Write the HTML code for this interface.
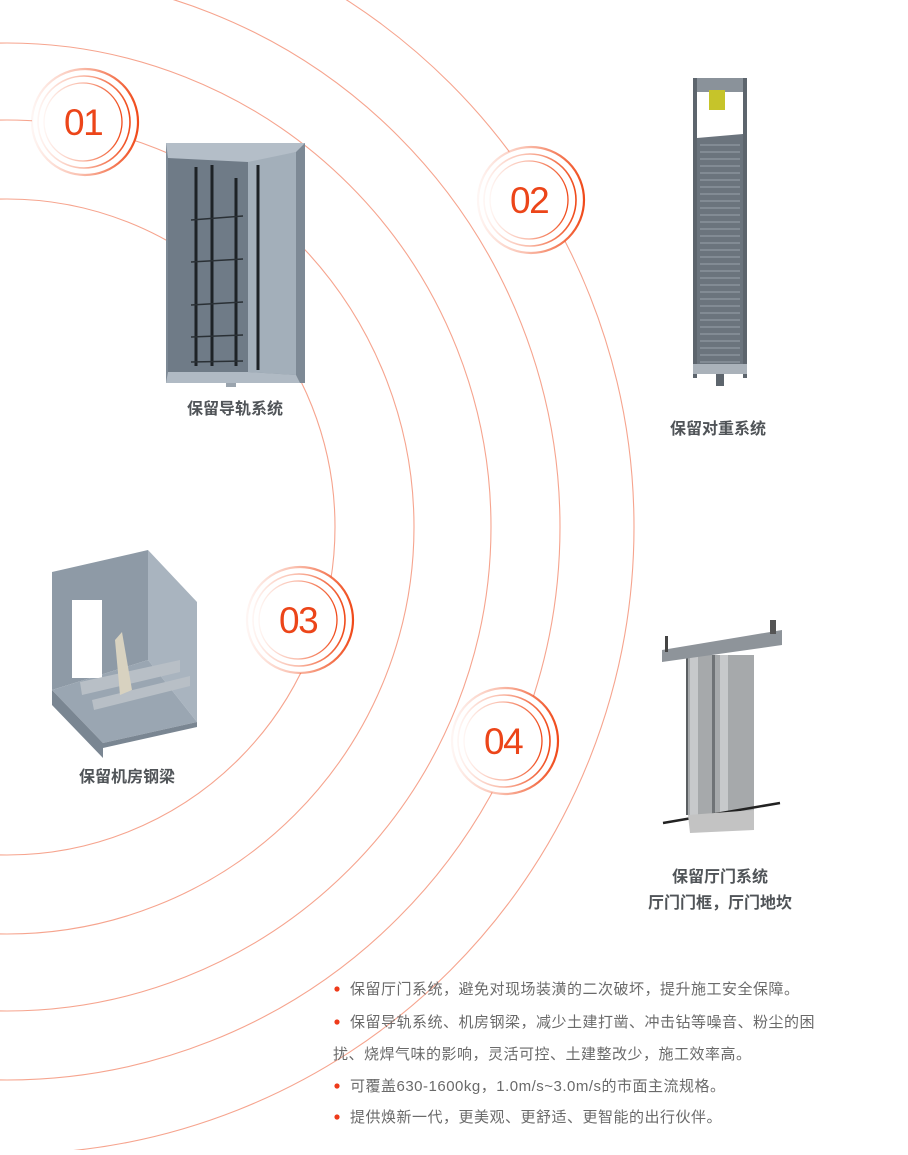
<!DOCTYPE html>
<html><head><meta charset="utf-8"><style>
html,body{margin:0;padding:0;background:#fff;}
body{width:908px;height:1150px;overflow:hidden;}
svg text{font-family:"Liberation Sans","Noto Sans CJK SC",sans-serif;}
</style></head><body>
<svg width="908" height="1150" viewBox="0 0 908 1150" xmlns="http://www.w3.org/2000/svg">
<defs>
<linearGradient id="rg" x1="0" y1="0" x2="1" y2="0">
<stop offset="0" stop-color="#f04a1a" stop-opacity="0.05"/>
<stop offset="0.45" stop-color="#f04a1a" stop-opacity="0.35"/>
<stop offset="1" stop-color="#f04a1a" stop-opacity="1"/>
</linearGradient>
<g id="ring">
<circle r="53" fill="#fff" stroke="url(#rg)" stroke-width="2.2"/>
<circle cx="-1" r="46" fill="none" stroke="url(#rg)" stroke-width="1.6"/>
<circle cx="-2" r="39" fill="none" stroke="url(#rg)" stroke-width="1.3"/>
</g>
</defs>
<g fill="none" stroke="#f6a48e" stroke-width="1.1">
<circle cx="7" cy="527" r="328"/>
<circle cx="7" cy="527" r="407"/>
<circle cx="7" cy="527" r="484"/>
<circle cx="7" cy="527" r="553"/>
<circle cx="7" cy="527" r="627"/>
</g>
<!-- rings -->
<use href="#ring" x="85" y="122"/>
<use href="#ring" x="531" y="200"/>
<use href="#ring" x="300" y="620"/>
<use href="#ring" x="505" y="741"/>
<g fill="#ec4519" font-size="37" letter-spacing="-1.5">
<text x="64" y="135">01</text>
<text x="510" y="213">02</text>
<text x="279" y="633">03</text>
<text x="484" y="754">04</text>
</g>

<!-- 01 cube -->
<g>
<rect x="166" y="143" width="139" height="240" fill="#8b97a3"/>
<polygon points="166,143 305,143 305,383 166,383" fill="#7d8995"/>
<polygon points="168,158 248,160 248,372 168,372" fill="#6f7b87"/>
<polygon points="248,160 296,152 296,375 248,372" fill="#a3afba"/>
<polygon points="166,143 305,143 296,152 248,162 168,158" fill="#b4bec8"/>
<polygon points="168,372 248,372 296,375 300,383 166,383" fill="#b0bac4"/>
<rect x="226" y="383" width="10" height="4" fill="#9aa4ae"/>
<g stroke="#1d2226" stroke-width="3">
<line x1="196" y1="167" x2="196" y2="366"/>
<line x1="212" y1="165" x2="212" y2="366"/>
<line x1="236" y1="178" x2="236" y2="366"/>
<line x1="258" y1="165" x2="258" y2="370"/>
</g>
<g stroke="#2a3035" stroke-width="1.5">
<line x1="191" y1="220" x2="243" y2="216"/>
<line x1="191" y1="262" x2="243" y2="259"/>
<line x1="191" y1="305" x2="243" y2="302"/>
<line x1="191" y1="337" x2="243" y2="335"/>
<line x1="191" y1="362" x2="243" y2="361"/>
</g>
</g>

<!-- 02 counterweight -->
<g>
<rect x="693" y="78" width="54" height="14" fill="#8a929a"/>
<rect x="693" y="78" width="4" height="300" fill="#5d656d"/>
<rect x="743" y="78" width="4" height="300" fill="#5d656d"/>
<rect x="709" y="90" width="16" height="20" fill="#c6c42a"/>
<polygon points="697,138 743,134 743,372 697,372" fill="#6b747d"/>
<g stroke="#9aa2aa" stroke-width="1">
<path d="M700 145H740M700 152H740M700 159H740M700 166H740M700 173H740M700 180H740M700 187H740M700 194H740M700 201H740M700 208H740M700 215H740M700 222H740M700 229H740M700 236H740M700 243H740M700 250H740M700 257H740M700 264H740M700 271H740M700 278H740M700 285H740M700 292H740M700 299H740M700 306H740M700 313H740M700 320H740M700 327H740M700 334H740M700 341H740M700 348H740M700 355H740M700 362H740"/>
</g>
<rect x="693" y="364" width="54" height="10" fill="#aab2ba"/>
<rect x="716" y="374" width="8" height="12" fill="#5d656d"/>
</g>

<!-- 03 machine room -->
<g>
<polygon points="52,572 148,550 148,660 52,690" fill="#8e9aa6"/>
<polygon points="148,550 197,602 197,722 148,660" fill="#a9b4bf"/>
<polygon points="52,690 148,660 197,722 103,743" fill="#9aa6b2"/>
<polygon points="52,690 52,705 103,758 103,743" fill="#7a8692"/>
<polygon points="103,743 197,722 197,727 103,748" fill="#7a8692"/>
<rect x="72" y="600" width="30" height="78" fill="#fff"/>
<polygon points="80,682 180,660 180,672 82,695" fill="#b8bfc6"/>
<polygon points="92,700 190,676 190,686 94,710" fill="#b8bfc6"/>
<polygon points="115,640 122,632 132,690 120,695" fill="#d8d2c0"/>
</g>

<!-- 04 landing door -->
<g>
<rect x="686" y="655" width="68" height="160" fill="#a6a9ab"/>
<rect x="690" y="655" width="8" height="160" fill="#c7c9cb"/>
<rect x="720" y="655" width="8" height="160" fill="#c7c9cb"/>
<rect x="712" y="655" width="3" height="160" fill="#6f7376"/>
<rect x="686" y="655" width="2" height="160" fill="#5b5f62"/>
<polygon points="662,650 782,630 782,645 662,662" fill="#8e949a"/>
<rect x="665" y="636" width="3" height="16" fill="#444"/>
<rect x="770" y="620" width="6" height="14" fill="#555"/>
<line x1="663" y1="823" x2="780" y2="803" stroke="#222" stroke-width="2.5"/>
<polygon points="688,815 754,810 754,830 690,833" fill="#c3c3c3"/>
</g>

<!-- labels -->
<g fill="#505458" font-size="16" font-weight="bold" text-anchor="middle">
<text x="235" y="414">保留导轨系统</text>
<text x="718" y="434">保留对重系统</text>
<text x="127" y="782">保留机房钢梁</text>
<text x="720" y="882">保留厅门系统</text>
<text x="720" y="908">厅门门框，厅门地坎</text>
</g>

<!-- bullets -->
<g fill="#ee3a1a">
<circle cx="337" cy="989" r="2.6"/>
<circle cx="337" cy="1022" r="2.6"/>
<circle cx="337" cy="1086" r="2.6"/>
<circle cx="337" cy="1117" r="2.6"/>
</g>
<g fill="#6a6a6a" font-size="15" letter-spacing="0.5">
<text x="350" y="994">保留厅门系统，避免对现场装潢的二次破坏，提升施工安全保障。</text>
<text x="350" y="1027">保留导轨系统、机房钢梁，减少土建打凿、冲击钻等噪音、粉尘的困</text>
<text x="333" y="1059">扰、烧焊气味的影响，灵活可控、土建整改少，施工效率高。</text>
<text x="350" y="1091">可覆盖630-1600kg，1.0m/s~3.0m/s的市面主流规格。</text>
<text x="350" y="1122">提供焕新一代，更美观、更舒适、更智能的出行伙伴。</text>
</g>
</svg>
</body></html>
